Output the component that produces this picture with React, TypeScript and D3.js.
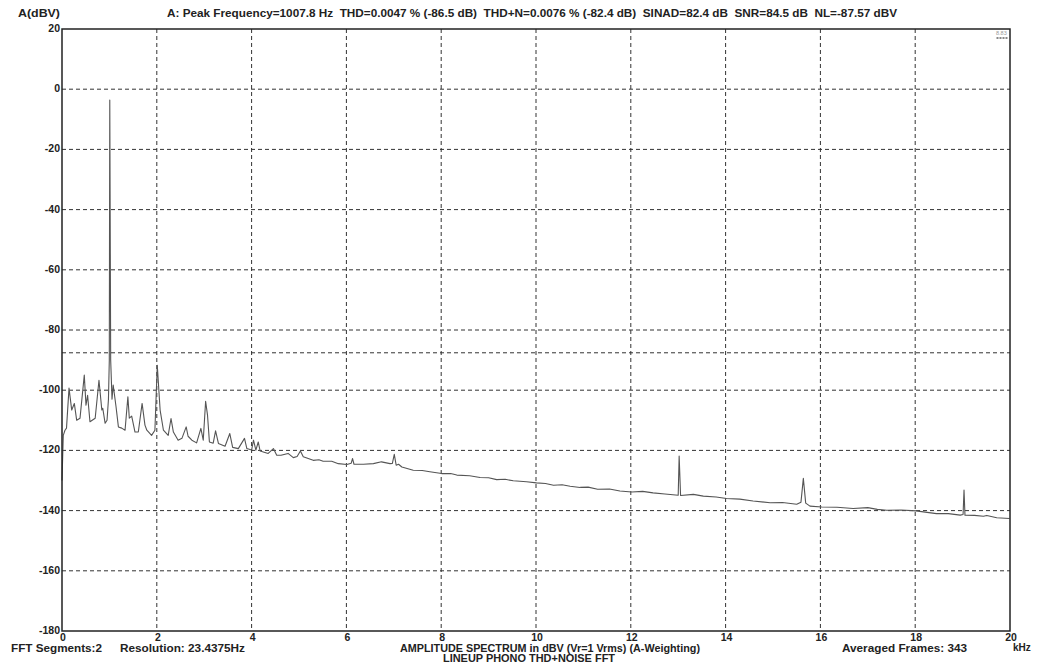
import React from 'react';
import * as d3 from 'd3';

const W = 1049;
const H = 668;
const margin = { left: 62, right: 39, top: 29, bottom: 37 };

const yTicks = [20, 0, -20, -40, -60, -80, -100, -120, -140, -160, -180];
const xTicks = [0, 2, 4, 6, 8, 10, 12, 14, 16, 18, 20];
const gridX = [2, 4, 6, 8, 10, 12, 14, 16, 18];
const gridY = [0, -20, -40, -60, -80, -100, -120, -140, -160];
const noiseLevel = -87.57;

const titleText =
  'A: Peak Frequency=1007.8 Hz  THD=0.0047 % (-86.5 dB)  THD+N=0.0076 % (-82.4 dB)  SINAD=82.4 dB  SNR=84.5 dB  NL=-87.57 dBV';

// [kHz, dBV], 0 - 11 kHz
const lowBand: [number, number][] = [
  [0, -130], [0.027, -115], [0.063, -113.3], [0.095, -112.6], [0.148, -99.3],
  [0.205, -106.6], [0.26, -104.4], [0.31, -110], [0.38, -109.3], [0.47, -95],
  [0.506, -105], [0.54, -101.7], [0.59, -110.5], [0.7, -109.3], [0.78, -96.7],
  [0.84, -106.6], [0.86, -106], [0.91, -111], [0.95, -110], [0.98, -103],
  [0.998, -90], [1.008, -3.6], [1.027, -90], [1.055, -103], [1.08, -98.3],
  [1.14, -105.5], [1.19, -112.2], [1.26, -112.6], [1.33, -113.3], [1.39, -102.2],
  [1.42, -109.3], [1.47, -108.6], [1.54, -113.9], [1.61, -113.9], [1.69, -104.4],
  [1.75, -111.6], [1.79, -113.3], [1.89, -115], [1.96, -113.3], [2.01, -91.7],
  [2.07, -106.6], [2.14, -113.3], [2.24, -115], [2.3, -109.4], [2.35, -113.9],
  [2.45, -116.6], [2.53, -116], [2.62, -112.2], [2.66, -115.3], [2.74, -116.6],
  [2.84, -117.5], [2.93, -112.7], [2.98, -116.6], [3.03, -103.7], [3.07, -108.3],
  [3.11, -117.2], [3.19, -117.6], [3.24, -113.5], [3.3, -117.7], [3.44, -118.6],
  [3.54, -114.4], [3.6, -119], [3.72, -119.4], [3.85, -116], [3.9, -119.4],
  [4.0, -119.9], [4.04, -116.6], [4.09, -119.9], [4.14, -117.2], [4.18, -120.2],
  [4.35, -121], [4.46, -119.4], [4.53, -121.6], [4.62, -121.6], [4.77, -121],
  [4.88, -122.4], [4.96, -122], [5.03, -120.2], [5.09, -122.1], [5.3, -123.3],
  [5.42, -123.1], [5.51, -123.6], [5.69, -123.6], [5.83, -124.4], [6.01, -124.7],
  [6.1, -124.3], [6.13, -122.7], [6.16, -124.6], [6.36, -124.6], [6.57, -124.4],
  [6.74, -123.8], [6.92, -124.4], [6.97, -124.3], [7.01, -121.3], [7.05, -124.9],
  [7.1, -124.6], [7.17, -125.5], [7.41, -126.6], [7.6, -126.7], [7.76, -127.1],
  [8.01, -127.7], [8.2, -127.7], [8.33, -128.2], [8.6, -128.4], [8.82, -129],
  [9.0, -129.1], [9.17, -129.7], [9.35, -129.6], [9.52, -130.1], [9.8, -130.4],
  [10.01, -130.8], [10.2, -131], [10.37, -131.6], [10.55, -131.4], [10.72, -131.9],
  [10.93, -132.3],
];

// [kHz, dBV], 11 - 20 kHz
const highBand: [number, number][] = [
  [10.93, -132.3], [11.1, -132.2], [11.3, -132.9], [11.55, -132.8], [11.77, -133.5],
  [12.02, -133.8], [12.25, -133.6], [12.47, -134.1], [12.72, -134.5], [13.0, -134.9],
  [13.02, -121.9], [13.05, -135], [13.32, -134.6], [13.53, -135.2], [13.8, -135.5],
  [14.02, -136], [14.3, -136.2], [14.58, -136.8], [14.94, -137.4], [15.2, -137.3],
  [15.5, -137.9], [15.59, -137.2], [15.64, -129.3], [15.69, -137.5], [15.78, -138.5],
  [16.03, -138.8], [16.35, -138.9], [16.69, -139.3], [17.0, -139], [17.2, -139.6],
  [17.4, -139.9], [17.7, -139.8], [18.02, -140.1], [18.25, -140.6], [18.45, -141],
  [18.7, -141], [18.95, -141.5], [19.01, -141.3], [19.03, -133.2], [19.05, -141.5],
  [19.25, -141.6], [19.44, -141.9], [19.51, -141.6], [19.72, -142.4], [19.99, -142.6],
];

const font = 'Liberation Sans, Arial, Helvetica, sans-serif';

export default function App() {
  const x = d3.scaleLinear().domain([0, 20]).range([margin.left, W - margin.right]);
  const y = d3.scaleLinear().domain([-180, 20]).range([H - margin.bottom, margin.top]);
  const line = d3
    .line<[number, number]>()
    .x((d) => x(d[0]))
    .y((d) => y(d[1]));

  const x0 = x(0);
  const x1 = x(20);
  const yTop = y(20);
  const yBot = y(-180);

  return (
    <svg
      width={W}
      height={H}
      style={{ position: 'absolute', left: 0, top: 0, background: '#fff' }}
      fontFamily={font}
      fontWeight="bold"
    >
      <rect x={0} y={0} width={W} height={H} fill="#fff" />

      {/* header */}
      <text x={18} y={17} fontSize={11} textLength={42} lengthAdjust="spacingAndGlyphs" fill="#222">
        A(dBV)
      </text>
      <text
        x={167}
        y={17}
        fontSize={10}
        textLength={730}
        lengthAdjust="spacingAndGlyphs"
        fill="#222"
        style={{ whiteSpace: 'pre' }}
      >
        {titleText}
      </text>

      {/* grid */}
      {gridX.map((v) => (
        <line key={'gx' + v} x1={x(v)} x2={x(v)} y1={yTop} y2={yBot} stroke="#333" strokeWidth={1} strokeDasharray="4,3" />
      ))}
      {gridY.map((v) => (
        <line key={'gy' + v} x1={x0} x2={x1} y1={y(v)} y2={y(v)} stroke="#333" strokeWidth={1} strokeDasharray="4,3" />
      ))}
      <line x1={x0} x2={x1} y1={y(noiseLevel)} y2={y(noiseLevel)} stroke="#333" strokeWidth={1} strokeDasharray="4,3" />

      {/* spectrum */}
      <path d={line(lowBand) || ''} fill="none" stroke="#555" strokeWidth={1.1} strokeLinejoin="round" />
      <path d={line(highBand) || ''} fill="none" stroke="#555" strokeWidth={1.1} strokeLinejoin="round" />

      {/* frame */}
      <rect x={x0} y={yTop} width={x1 - x0} height={yBot - yTop} fill="none" stroke="#222" strokeWidth={1.5} />

      {/* y ticks */}
      {yTicks.map((v) => (
        <text key={'yt' + v} x={60} y={y(v) + 3} fontSize={10.5} textAnchor="end" fill="#222">
          {v}
        </text>
      ))}

      {/* x ticks */}
      {xTicks.map((v) => (
        <text key={'xt' + v} x={x(v) + 1} y={641} fontSize={10.5} textAnchor="middle" fill="#222">
          {v}
        </text>
      ))}
      <text x={1013} y={651} fontSize={10} fill="#222">kHz</text>

      {/* small marker top right */}
      <text x={996} y={35} fontSize={5.5} fill="#999" fontWeight="normal">8.83</text>
      {[0, 1, 2, 3].map((i) => (
        <rect key={'mk' + i} x={996.5 + i * 3} y={37} width={2} height={2} fill="#888" />
      ))}

      {/* footer */}
      <text x={11} y={652} fontSize={10} textLength={91} lengthAdjust="spacingAndGlyphs" fill="#222">
        FFT Segments:2
      </text>
      <text x={120} y={652} fontSize={10} textLength={125} lengthAdjust="spacingAndGlyphs" fill="#222">
        Resolution: 23.4375Hz
      </text>
      <text x={400} y={652} fontSize={10} textLength={300} lengthAdjust="spacingAndGlyphs" fill="#222">
        AMPLITUDE SPECTRUM in dBV (Vr=1 Vrms) (A-Weighting)
      </text>
      <text x={443} y={662} fontSize={10} textLength={172} lengthAdjust="spacingAndGlyphs" fill="#222">
        LINEUP PHONO THD+NOISE FFT
      </text>
      <text x={842} y={652} fontSize={10} textLength={125} lengthAdjust="spacingAndGlyphs" fill="#222">
        Averaged Frames: 343
      </text>
    </svg>
  );
}
